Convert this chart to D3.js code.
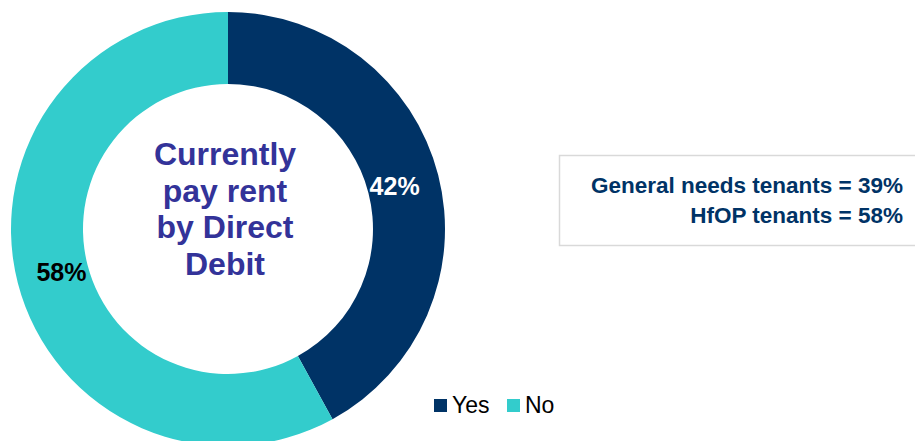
<!DOCTYPE html>
<html>
<head>
<meta charset="utf-8">
<script src="https://cdn.jsdelivr.net/npm/d3@7"></script>
<style>
  html, body { margin: 0; padding: 0; background: #ffffff; }
  svg { display: block; }
</style>
</head>
<body>
<svg id="chart" width="915" height="441"></svg>
<script>
// Share of tenants paying rent by Direct Debit
const categories = ["Yes", "No"];
const values = [42, 58];
const colors = ["#003366", "#33CCCC"];
const labelColors = ["#ffffff", "#000000"];
const centerLines = ["Currently", "pay rent", "by Direct", "Debit"];
const noteLines = ["General needs tenants = 39%", "HfOP tenants = 58%"];

const svg = d3.select("#chart");
const cx = 228, cy = 229, outerR = 217, innerR = 145;

const pie = d3.pie().sort(null).value(d => d.value);
const arcs = pie(categories.map((c, i) => ({ cat: c, value: values[i] })));
const arc = d3.arc().innerRadius(innerR).outerRadius(outerR);
const labelArc = d3.arc().innerRadius(172).outerRadius(172);

const g = svg.append("g").attr("transform", `translate(${cx},${cy})`);
g.selectAll("path.slice")
  .data(arcs)
  .join("path")
  .attr("class", "slice")
  .attr("d", arc)
  .attr("fill", (d, i) => colors[i]);

g.selectAll("text.pct")
  .data(arcs)
  .join("text")
  .attr("class", "pct")
  .attr("transform", d => `translate(${labelArc.centroid(d)})`)
  .attr("text-anchor", "middle")
  .attr("dy", "0.35em")
  .attr("font-family", "Liberation Sans, Arial, sans-serif")
  .attr("font-weight", "bold")
  .attr("font-size", 25)
  .attr("fill", (d, i) => labelColors[i])
  .text(d => d.data.value + "%");

// Title inside the hole
const title = g.append("text")
  .attr("text-anchor", "middle")
  .attr("font-family", "Liberation Sans, Arial, sans-serif")
  .attr("font-weight", "bold")
  .attr("font-size", 32)
  .attr("fill", "#333399");
centerLines.forEach((line, i) => {
  title.append("tspan")
    .attr("x", -3)
    .attr("y", -64 + i * 36.7)
    .text(line);
});

// Note box on the right
svg.append("rect")
  .attr("x", 559.5).attr("y", 155.5)
  .attr("width", 370).attr("height", 90)
  .attr("fill", "#ffffff")
  .attr("stroke", "#d9d9d9")
  .attr("stroke-width", 1.5);

const note = svg.append("text")
  .attr("text-anchor", "end")
  .attr("font-family", "Liberation Sans, Arial, sans-serif")
  .attr("font-weight", "bold")
  .attr("font-size", 22.5)
  .attr("fill", "#003366");
noteLines.forEach((line, i) => {
  note.append("tspan")
    .attr("x", 903)
    .attr("y", 193 + i * 30)
    .text(line);
});

// Legend
const legendX = [434, 507];
const legend = svg.append("g");
categories.forEach((c, i) => {
  legend.append("rect")
    .attr("x", legendX[i]).attr("y", 399)
    .attr("width", 13).attr("height", 13)
    .attr("fill", colors[i]);
  legend.append("text")
    .attr("x", legendX[i] + 18).attr("y", 413)
    .attr("font-family", "Liberation Sans, Arial, sans-serif")
    .attr("font-size", 23)
    .attr("fill", "#000000")
    .text(c);
});
</script>
</body>
</html>
